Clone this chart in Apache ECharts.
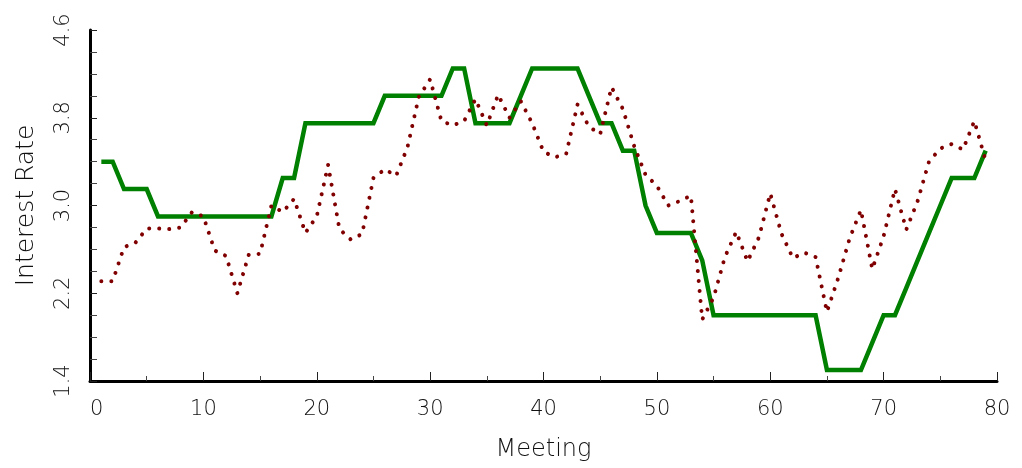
<!DOCTYPE html>
<html>
<head>
<meta charset="utf-8">
<script src="https://cdn.jsdelivr.net/npm/echarts@6/dist/echarts.min.js"></script>
<style>
html,body{margin:0;padding:0;background:#fff;}
#chart{width:1022px;height:468px;}
</style>
</head>
<body>
<div id="chart"></div>
<script>
const meetings = [1,2,3,4,5,6,7,8,9,10,11,12,13,14,15,16,17,18,19,20,
  21,22,23,24,25,26,27,28,29,30,31,32,33,34,35,36,37,38,39,40,
  41,42,43,44,45,46,47,48,49,50,51,52,53,54,55,56,57,58,59,60,
  61,62,63,64,65,66,67,68,69,70,71,72,73,74,75,76,77,78,79];

const policyRate = [3.4,3.4,3.15,3.15,3.15,2.9,2.9,2.9,2.9,2.9,
  2.9,2.9,2.9,2.9,2.9,2.9,3.25,3.25,3.75,3.75,
  3.75,3.75,3.75,3.75,3.75,4.0,4.0,4.0,4.0,4.0,
  4.0,4.25,4.25,3.75,3.75,3.75,3.75,4.0,4.25,4.25,
  4.25,4.25,4.25,4.0,3.75,3.75,3.5,3.5,3.0,2.75,
  2.75,2.75,2.75,2.5,2.0,2.0,2.0,2.0,2.0,2.0,
  2.0,2.0,2.0,2.0,1.5,1.5,1.5,1.5,1.75,2.0,
  2.0,2.25,2.5,2.75,3.0,3.25,3.25,3.25,3.5];

const marketRate = [2.31,2.31,2.62,2.66,2.79,2.79,2.785,2.80,2.94,2.90,
  2.59,2.54,2.20,2.55,2.56,3.0,2.94,3.06,2.75,2.90,
  3.37,2.785,2.69,2.74,3.25,3.33,3.27,3.53,3.99,4.15,
  3.77,3.73,3.77,3.97,3.73,4.01,3.80,3.95,3.75,3.49,
  3.44,3.47,3.92,3.72,3.65,4.08,3.88,3.54,3.28,3.18,
  3.0,3.04,3.09,1.96,2.16,2.53,2.76,2.49,2.71,3.11,
  2.74,2.52,2.57,2.53,2.03,2.34,2.70,2.96,2.42,2.72,
  3.15,2.78,3.04,3.40,3.52,3.56,3.51,3.77,3.41];

const xTitle = 'Meeting';
const yTitle = 'Interest Rate';

const FONT = '"DejaVu Sans ExtraLight", "DejaVu Sans", sans-serif';
const TXT = '#111';

const chart = echarts.init(document.getElementById('chart'), null, {renderer: 'canvas'});
chart.setOption({
  animation: false,
  backgroundColor: '#fff',
  grid: {left: 90, right: 25, top: 30, bottom: 87, containLabel: false},
  xAxis: {
    type: 'value', min: 0, max: 80, interval: 10,
    name: xTitle, nameLocation: 'middle', nameGap: 57,
    nameTextStyle: {fontFamily: FONT, fontWeight: 200, fontSize: 24, color: TXT},
    axisLine: {show: true, onZero: false, lineStyle: {color: '#000', width: 3}},
    axisTick: {show: true, inside: true, length: 9, lineStyle: {color: '#222', width: 1}},
    minorTick: {show: true, splitNumber: 2, length: 5, lineStyle: {color: '#444', width: 1}},
    axisLabel: {fontFamily: FONT, fontWeight: 200, fontSize: 21, color: TXT, margin: 18, alignMinLabel: 'left'},
    splitLine: {show: false}
  },
  yAxis: {
    type: 'value', min: 1.4, max: 4.6, interval: 0.8,
    name: yTitle, nameLocation: 'middle', nameGap: 51,
    nameTextStyle: {fontFamily: FONT, fontWeight: 200, fontSize: 25, color: TXT},
    axisLine: {show: true, onZero: false, lineStyle: {color: '#000', width: 3}},
    axisTick: {show: true, inside: true, length: 7, lineStyle: {color: '#222', width: 1}},
    minorTick: {show: true, splitNumber: 4, length: 7, lineStyle: {color: '#444', width: 1}},
    axisLabel: {fontFamily: FONT, fontWeight: 200, fontSize: 21, color: TXT, rotate: 90, margin: 16,
      formatter: v => v.toFixed(1)},
    splitLine: {show: false}
  },
  series: [
    {
      type: 'line', name: 'policy', showSymbol: false, symbol: 'none',
      data: meetings.map((m, i) => [m, policyRate[i]]),
      lineStyle: {color: '#008000', width: 4.5, cap: 'butt', join: 'miter'},
      z: 2
    },
    {
      type: 'line', name: 'market', showSymbol: false, symbol: 'none',
      data: meetings.map((m, i) => [m, marketRate[i]]),
      lineStyle: {color: '#800000', width: 4, type: [0.01, 10], cap: 'round'},
      z: 3
    }
  ]
});
</script>
</body>
</html>
